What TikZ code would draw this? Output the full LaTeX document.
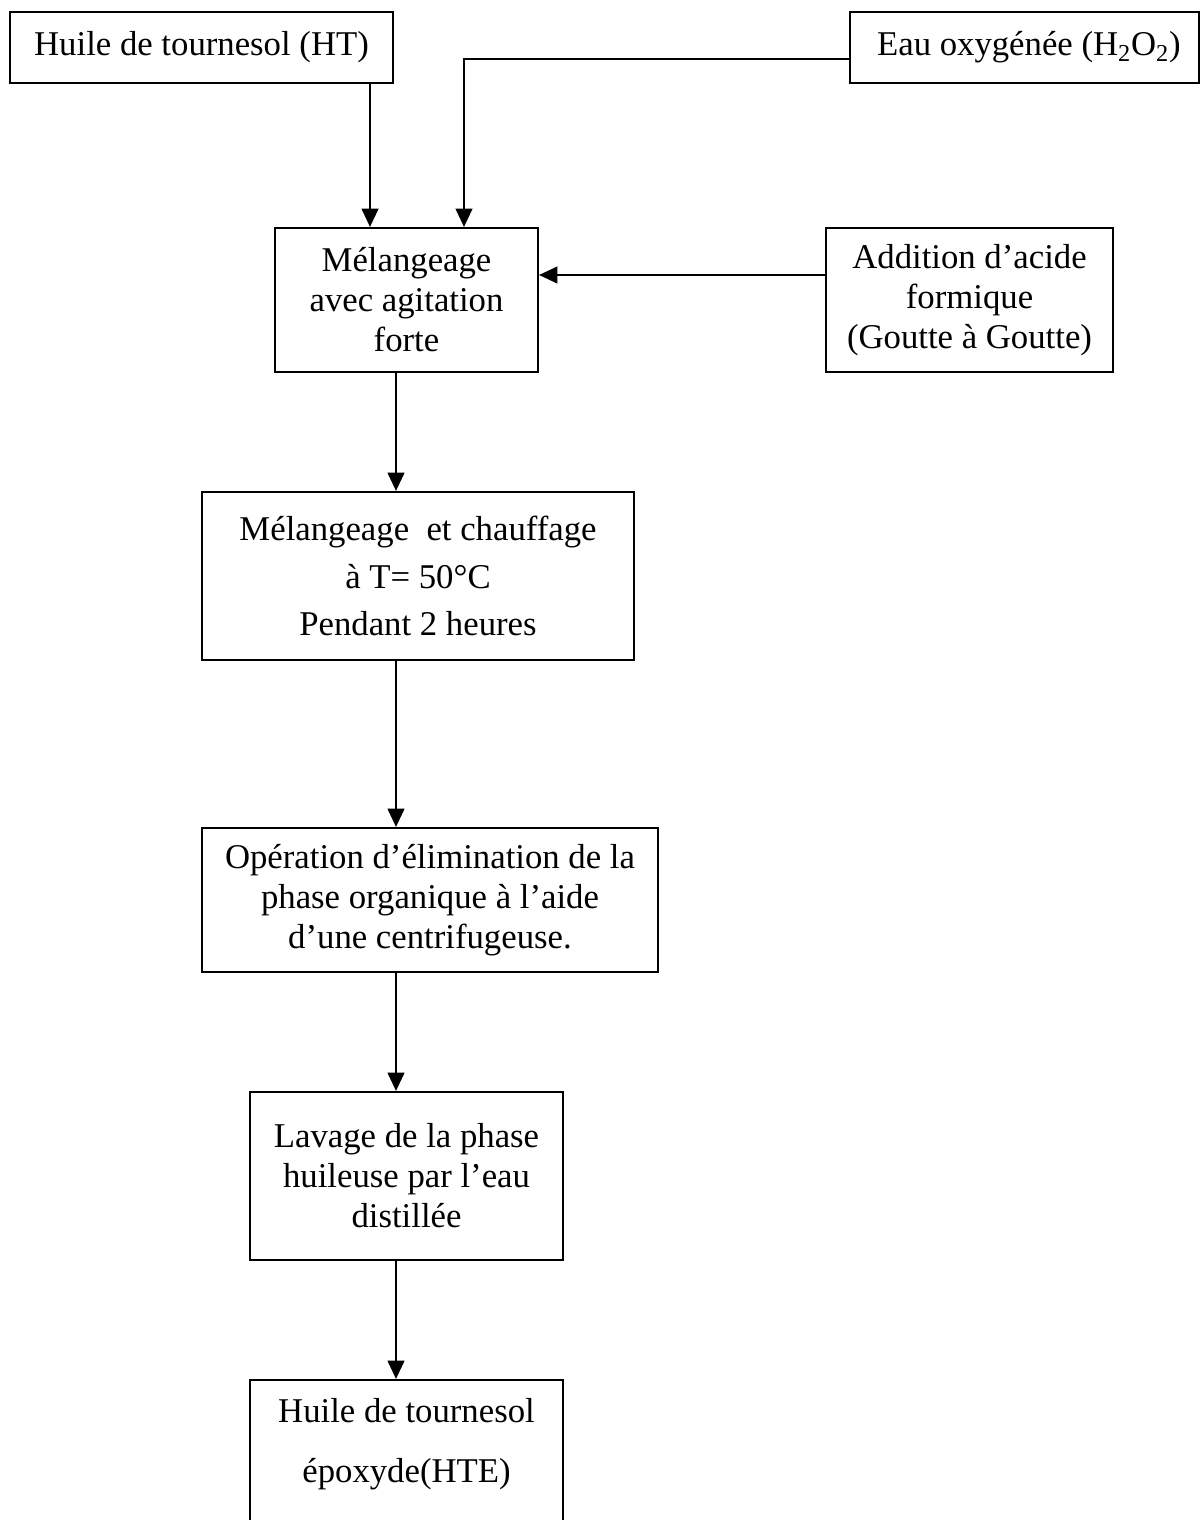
\documentclass[tikz,border=0pt]{standalone}
\usepackage{fontspec}
\setmainfont{Liberation Serif}
\usetikzlibrary{arrows.meta}

\tikzset{
  box/.style={draw, line width=1.5pt, align=center, inner sep=0pt,
    font=\fontsize{24.7}{28.5}\selectfont},
  arr/.style={line width=1.5pt, -{Triangle[length=4.6mm,width=4.2mm]}}
}

\begin{document}
\begin{tikzpicture}[x=0.025cm, y=-0.025cm]
  \useasboundingbox (0,0) rectangle (1200,1520);

  % inputs at the top
  \node[box, minimum width=383*0.025cm, minimum height=71*0.025cm] (ht) at (201.5,47.5) {Huile de tournesol (HT)};
  \node[box, minimum width=349*0.025cm, minimum height=71*0.025cm] (hp) at (1024.5,47.5) {\ Eau oxygénée (H\textsubscript{2}O\textsubscript{2})};

  % mixing and formic acid
  \node[box, minimum width=263*0.025cm, minimum height=144*0.025cm] (mix) at (406.5,300) {Mélangeage\\avec agitation\\forte};
  \node[box, minimum width=287*0.025cm, minimum height=144*0.025cm] (acid) at (969.5,300) {Addition d’acide\\formique\\(Goutte à Goutte)};

  % process steps
  \node[box, minimum width=432*0.025cm, minimum height=168*0.025cm,
    font=\fontsize{24.7}{34}\selectfont] (heat) at (418,576) {Mélangeage\ \ et chauffage\\à T= 50°C\\Pendant 2 heures};
  \node[box, minimum width=456*0.025cm, minimum height=144*0.025cm] (sep) at (430,900) {Opération d’élimination de la\\phase organique à l’aide\\d’une centrifugeuse.};
  \node[box, minimum width=313*0.025cm, minimum height=168*0.025cm] (wash) at (406.5,1176) {Lavage de la phase\\huileuse par l’eau\\distillée};
  \node[box, minimum width=313*0.025cm, minimum height=170*0.025cm] (prod) at (406.5,1465) {};
  \node[font=\fontsize{24.7}{42.7}\selectfont, align=center] (prodtxt) at (406.5,1444) {Huile de tournesol\\époxyde(HTE)};

  % guide coordinates for the connectors
  \coordinate (c1) at (370,0);
  \coordinate (c2) at (464,59);
  \coordinate (c3) at (0,275);
  \coordinate (c4) at (396,0);

  \draw[arr] (ht.south -| c1) -- (mix.north -| c1);
  \draw[arr] (hp.west |- c2) -| (mix.north -| c2);
  \draw[arr] (acid.west |- c3) -- (mix.east |- c3);
  \foreach \a/\b in {mix/heat, heat/sep, sep/wash, wash/prod}
    \draw[arr] (\a.south -| c4) -- (\b.north -| c4);
\end{tikzpicture}
\end{document}
